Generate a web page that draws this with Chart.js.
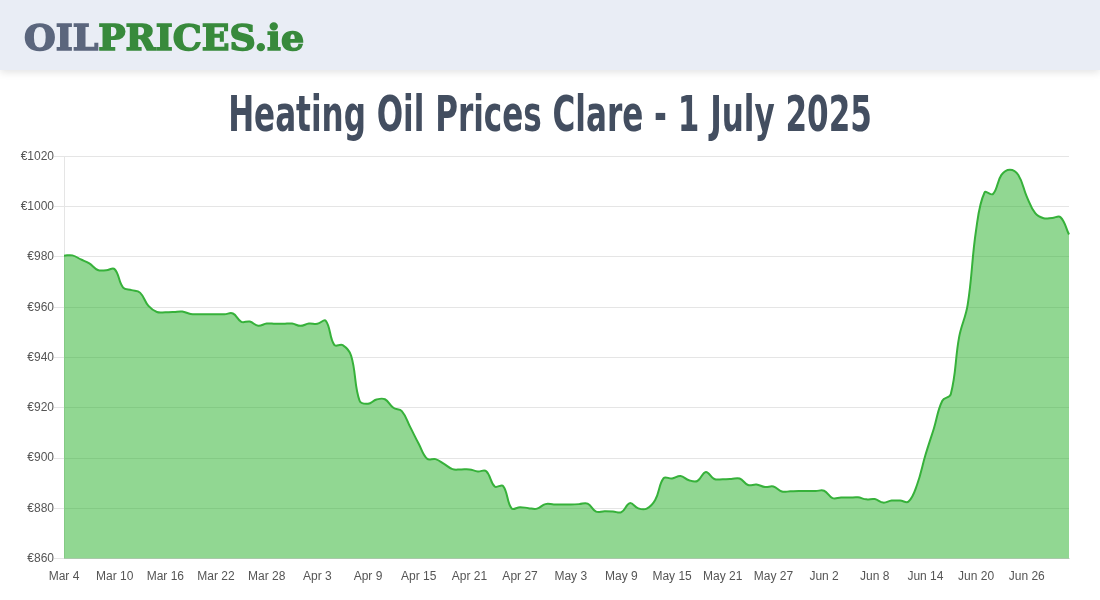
<!DOCTYPE html>
<html>
<head>
<meta charset="utf-8">
<title>Heating Oil Prices Clare</title>
<script src="https://cdn.jsdelivr.net/npm/chart.js@4"></script>
<style>
  html, body { margin: 0; padding: 0; background: #fff; overflow: hidden; }
  .top-bar {
    position: absolute; left: 0; top: 0; width: 1100px; height: 70px;
    background: #e9edf5; box-shadow: 0 2px 8px rgba(0,0,0,.12);
  }
  .logo {
    position: absolute; left: 24px; top: 14px; white-space: nowrap;
    font: bold 36px "DejaVu Serif", serif; line-height: 46px;
    transform-origin: 0 0; transform: scaleX(1.01);
    -webkit-text-stroke: 1.6px currentColor; color: #5b667d;
    filter: blur(.4px);
  }
  .logo b { color: #388a3c; }
  h1 {
    position: absolute; left: 0; top: 84px; width: 1100px; margin: 0; text-align: center;
    font: bold 50px "DejaVu Sans Condensed", sans-serif;
    line-height: 60px; color: #434e60;
    transform: scaleX(0.69);
  }
  .chart-box { position: absolute; left: 0; top: 140px; width: 1100px; height: 460px; }
</style>
</head>
<body>
<div class="top-bar"><div class="logo">OIL<b>PRICES.ie</b></div></div>
<h1>Heating Oil Prices Clare - 1 July 2025</h1>
<div class="chart-box"><canvas id="myChart"></canvas></div>
<script>
// days, one label per day
const days = [
  'Mar 4','Mar 5','Mar 6','Mar 7','Mar 8','Mar 9','Mar 10','Mar 11','Mar 12','Mar 13','Mar 14','Mar 15',
  'Mar 16','Mar 17','Mar 18','Mar 19','Mar 20','Mar 21','Mar 22','Mar 23','Mar 24','Mar 25','Mar 26','Mar 27',
  'Mar 28','Mar 29','Mar 30','Mar 31','Apr 1','Apr 2','Apr 3','Apr 4','Apr 5','Apr 6','Apr 7','Apr 8',
  'Apr 9','Apr 10','Apr 11','Apr 12','Apr 13','Apr 14','Apr 15','Apr 16','Apr 17','Apr 18','Apr 19','Apr 20',
  'Apr 21','Apr 22','Apr 23','Apr 24','Apr 25','Apr 26','Apr 27','Apr 28','Apr 29','Apr 30','May 1','May 2',
  'May 3','May 4','May 5','May 6','May 7','May 8','May 9','May 10','May 11','May 12','May 13','May 14',
  'May 15','May 16','May 17','May 18','May 19','May 20','May 21','May 22','May 23','May 24','May 25','May 26',
  'May 27','May 28','May 29','May 30','May 31','Jun 1','Jun 2','Jun 3','Jun 4','Jun 5','Jun 6','Jun 7',
  'Jun 8','Jun 9','Jun 10','Jun 11','Jun 12','Jun 13','Jun 14','Jun 15','Jun 16','Jun 17','Jun 18','Jun 19',
  'Jun 20','Jun 21','Jun 22','Jun 23','Jun 24','Jun 25','Jun 26','Jun 27','Jun 28','Jun 29','Jun 30','Jul 1'
];

// price in euro
const prices = [
  980.5,980.6,979,977.4,974.8,974.7,975.1,967.8,966.8,965.8,960.5,958.1,
  958,958.1,958.3,957.3,957.2,957.2,957.2,957.2,957.5,954.2,954.3,952.6,
  953.5,953.4,953.4,953.5,952.6,953.5,953.4,954.6,945,944.9,940.7,922.8,
  921.6,923.3,923.4,920,918.7,912.3,905.7,899.7,899.6,897.7,895.6,895.5,
  895.5,894.7,894.8,888.7,888.9,880,880.5,880.1,879.9,881.7,881.6,881.6,
  881.6,881.7,881.9,878.7,878.9,878.8,878.5,882.1,880,879.9,883.3,892,
  891.9,892.9,891.2,890.9,894.5,891.7,891.6,891.7,891.9,889.3,889.5,888.5,
  888.7,886.7,886.8,886.9,886.9,886.9,887,884.1,884.3,884.3,884.4,883.6,
  883.7,882.3,883.1,883.1,882.7,889.3,901.2,911.8,922.8,925.4,948.3,960.9,
  990.7,1005.6,1005,1012.6,1014.7,1012.6,1004,997.4,995.4,995.5,995.8,988.9
];

const tickFont = { family: '"Liberation Sans", Arial, sans-serif', size: 12 };

new Chart(document.getElementById('myChart'), {
  type: 'line',
  data: {
    labels: days,
    datasets: [{
      label: 'Heating Oil',
      data: prices,
      borderColor: '#36b13a',
      backgroundColor: 'rgba(35,175,37,.5)',
      borderWidth: 2,
      pointRadius: 0,
      tension: 0.4,
      fill: 'start'
    }]
  },
  options: {
    responsive: true,
    maintainAspectRatio: false,
    animation: false,
    layout: { padding: { top: 16.3, right: 31, left: 0, bottom: 0 } },
    plugins: { legend: { display: false }, tooltip: { enabled: false } },
    scales: {
      x: {
        grid: { display: false },
        ticks: { font: tickFont, color: '#555', maxRotation: 0, autoSkip: true, maxTicksLimit: 20, padding: 3 },
        afterFit: s => { s.height = 41.3; }
      },
      y: {
        min: 860,
        max: 1020,
        grid: { color: 'rgba(0,0,0,.1)', tickLength: 10 },
        ticks: { font: tickFont, color: '#555', stepSize: 20, padding: 0, callback: v => '€' + v },
        afterFit: s => { s.width = 64; }
      }
    }
  }
});
</script>
</body>
</html>
